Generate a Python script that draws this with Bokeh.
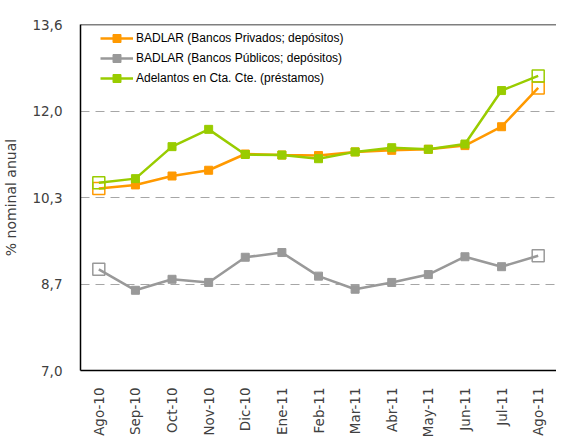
from bokeh.plotting import figure
from bokeh.models import FactorRange, FixedTicker, Span, Legend, LegendItem
from bokeh.embed import file_html
from bokeh.resources import INLINE

months = ["Ago-10", "Sep-10", "Oct-10", "Nov-10", "Dic-10", "Ene-11", "Feb-11",
          "Mar-11", "Abr-11", "May-11", "Jun-11", "Jul-11", "Ago-11"]
privados = [10.47, 10.54, 10.71, 10.82, 11.13, 11.11, 11.10, 11.17, 11.20, 11.22, 11.29, 11.65, 12.39]
publicos = [8.93, 8.53, 8.74, 8.68, 9.16, 9.25, 8.80, 8.55, 8.68, 8.83, 9.17, 8.98, 9.19]
adelantos = [10.58, 10.66, 11.27, 11.60, 11.12, 11.11, 11.04, 11.17, 11.25, 11.22, 11.32, 12.34, 12.62]
y_ticks = [7.0, 8.65, 10.3, 11.95, 13.6]
y_tick_labels = ["7,0", "8,7", "10,3", "12,0", "13,6"]
names = ["BADLAR (Bancos Privados; depósitos)", "BADLAR (Bancos Públicos; depósitos)",
         "Adelantos en Cta. Cte. (préstamos)"]
colors = ["#FF9900", "#999999", "#99CC00"]

p = figure(frame_width=476, frame_height=346, x_range=FactorRange(*months, range_padding=0),
           y_range=(7.0, 13.6), output_backend="svg", toolbar_location=None,
           min_border_left=80, min_border_right=0, min_border_top=24, min_border_bottom=40)
p.outline_line_color = None
p.background_fill_color = "white"

items = []
for name, vals, c in [(names[0], privados, colors[0]), (names[1], publicos, colors[1]),
                      (names[2], adelantos, colors[2])]:
    r1 = p.line(months, vals, line_color=c, line_width=2.5)
    r2 = p.scatter(months[1:-1], vals[1:-1], marker="square", size=8, fill_color=c, line_color=c)
    ends = [months[0], months[-1]]
    p.scatter(ends, [vals[0], vals[-1]], marker="square", size=12, fill_color=None,
              line_color=c, line_width=1.5)
    items.append(LegendItem(label=name, renderers=[r1, r2]))

legend = Legend(items=items, location=(20, 282), margin=0, padding=0,
                glyph_width=33, glyph_height=20, label_height=20, spacing=0,
                label_standoff=3, label_text_font="Liberation Sans",
                label_text_font_size="12px", label_text_color="#000000",
                background_fill_alpha=0, border_line_color=None)
p.add_layout(legend, "center")

p.add_layout(Span(location=13.6, dimension="width", line_color="black", line_width=1.5))

p.yaxis.ticker = FixedTicker(ticks=y_ticks)
p.yaxis.major_label_overrides = {t: l for t, l in zip(y_ticks, y_tick_labels)}
p.yaxis.axis_label = "% nominal anual"
for ax in [p.xaxis[0], p.yaxis[0]]:
    ax.axis_line_color = "black"
    ax.axis_line_width = 1.5
    ax.major_tick_line_color = None
    ax.minor_tick_line_color = None
    ax.major_label_text_font = "DejaVu Sans"
    ax.major_label_text_font_size = "13.5px"
    ax.major_label_text_color = "#404040"
p.yaxis.major_label_standoff = 12
p.yaxis.axis_label_text_font = "DejaVu Sans"
p.yaxis.axis_label_text_font_size = "14px"
p.yaxis.axis_label_text_font_style = "normal"
p.yaxis.axis_label_text_color = "#404040"
p.yaxis.axis_label_standoff = 10
p.xaxis.major_label_orientation = 1.5708
p.xaxis.major_label_standoff = 11

p.xgrid.grid_line_color = None
p.ygrid.grid_line_color = "#A6A6A6"
p.ygrid.grid_line_dash = "9 6"
p.ygrid.grid_line_width = 1

open("out.html", "w").write(file_html(p, INLINE))
